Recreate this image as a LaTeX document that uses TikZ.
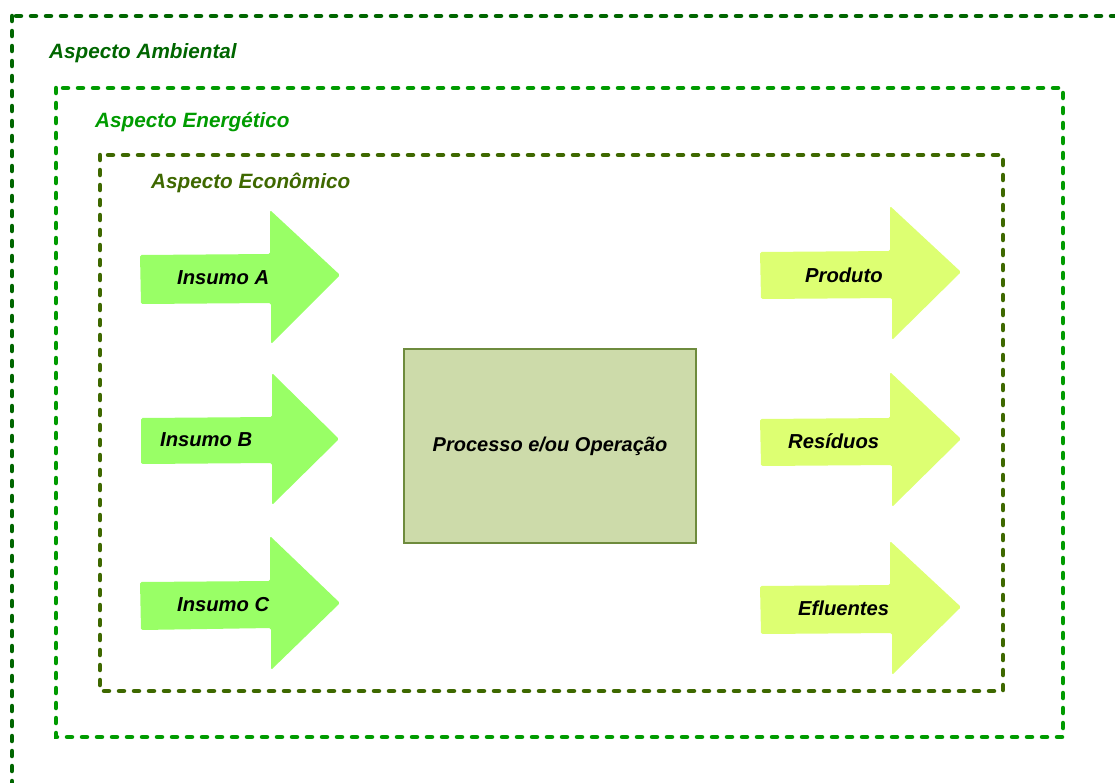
\documentclass[tikz,border=0pt]{standalone}
\usepackage{fontspec}
\setmainfont{Liberation Sans}
\definecolor{ambC}{RGB}{0,102,0}
\definecolor{eneC}{RGB}{0,155,0}
\definecolor{ecoC}{RGB}{62,104,0}
\definecolor{inC}{RGB}{153,255,102}
\definecolor{outC}{RGB}{221,255,114}
\definecolor{procFill}{RGB}{205,219,170}
\definecolor{procDraw}{RGB}{110,139,61}
\tikzset{
  dotbox/.style={line width=4.5pt, line cap=round, dash pattern=on 5pt off 10pt},
  lbl/.style={font=\fontsize{20.7}{24}\selectfont\bfseries\itshape, inner sep=0pt, anchor=base west},
  arrtxt/.style={font=\fontsize{20.2}{24}\selectfont\bfseries\itshape, inner sep=0pt, text=black},
  inarrow/.style={fill=inC, draw=none, rounded corners=1.5pt},
  outarrow/.style={fill=outC, draw=none, rounded corners=1.5pt},
}
\begin{document}
\begin{tikzpicture}[x=1pt,y=-1pt]
\useasboundingbox (0,0) rectangle (1115,782);
\clip (0,0) rectangle (1115,782);
% nested dotted frames
\draw[dotbox, ambC] (12,16) rectangle (1180,840);
\draw[dotbox, eneC] (56,88) rectangle (1063,737);
\draw[dotbox, ecoC] (100,155) rectangle (1003,691);
\node[lbl, text=ambC] (amb) at (49,58) {Aspecto Ambiental};
\node[lbl, text=eneC] (ene) at (95,127) {Aspecto Energético};
\node[lbl, text=ecoC] (eco) at (151,188) {Aspecto Econômico};
% input arrows
\fill[inarrow] (140,255) -- (270,254) -- (270,210) -- (340,275) -- (271,344) -- (271,303) -- (141,304) -- cycle;
\fill[inarrow] (141,418) -- (272,417) -- (272,373) -- (339,439) -- (272,505) -- (272,463) -- (141,464) -- cycle;
\fill[inarrow] (140,582) -- (270,581) -- (270,536) -- (340,603) -- (271,670) -- (271,628) -- (141,630) -- cycle;
\node[arrtxt, anchor=west] (ia) at (177,278) {Insumo A};
\node[arrtxt, anchor=west] (ib) at (160,440) {Insumo B};
\node[arrtxt, anchor=west] (ic) at (177,605) {Insumo C};
% process
\node[draw=procDraw, line width=2.3pt, fill=procFill, minimum width=292pt, minimum height=194pt, font=\fontsize{20}{24}\selectfont\bfseries\itshape] (proc) at (550,446) {Processo e/ou Operação};
% output arrows
\fill[outarrow] (760,252) -- (890,251) -- (890,206) -- (961,272) -- (892,340) -- (892,298) -- (761,299) -- cycle;
\fill[outarrow] (760,419) -- (890,418) -- (890,372) -- (961,439) -- (892,507) -- (892,465) -- (761,466) -- cycle;
\fill[outarrow] (760,586) -- (890,585) -- (890,541) -- (961,607) -- (892,675) -- (892,633) -- (761,634) -- cycle;
\node[arrtxt, anchor=west] (pr) at (805,275) {Produto};
\node[arrtxt, anchor=west] (re) at (788,441) {Resíduos};
\node[arrtxt, anchor=west] (ef) at (798,608) {Efluentes};
\end{tikzpicture}
\end{document}
